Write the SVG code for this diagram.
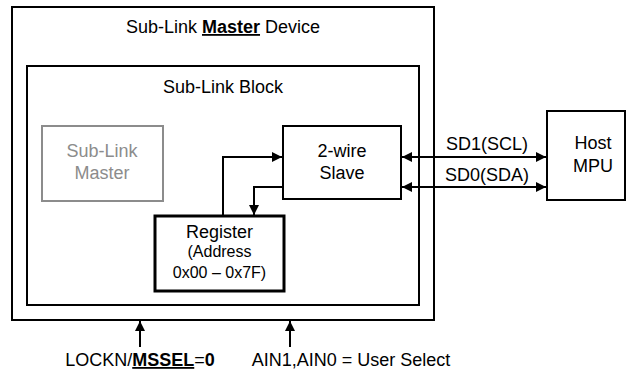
<svg xmlns="http://www.w3.org/2000/svg" width="626" height="374" viewBox="0 0 626 374">
<style>
text{font-family:"Liberation Sans",Arial,sans-serif;font-size:18px;fill:#000;text-anchor:middle}
.box{fill:#fff;stroke:#000;stroke-width:2}
.gray{fill:#fff;stroke:#8c8c8c;stroke-width:2}
.gt{fill:#8c8c8c}
.reg{fill:#fff;stroke:#000;stroke-width:3}
.b{font-weight:bold}
.u{text-decoration:underline}
.wire{fill:none;stroke:#000;stroke-width:2}
.small{font-size:16px}
</style>
<defs>
<marker id="ah" viewBox="0 0 10 10" refX="10" refY="5" markerWidth="5" markerHeight="5" orient="auto-start-reverse" markerUnits="strokeWidth">
<path d="M0,0 L10,5 L0,10 z" fill="#000"/>
</marker>
</defs>
<g id="device">
<rect class="box" x="12" y="7" width="422" height="313"/>
<text x="223" y="33">Sub-Link <tspan class="b u">Master</tspan> Device</text>
</g>
<g id="block">
<rect class="box" x="27" y="66" width="392" height="239"/>
<text x="223" y="93">Sub-Link Block</text>
</g>
<g id="master">
<rect class="gray" x="42" y="126" width="121" height="75"/>
<text class="gt" x="102" y="157">Sub-Link</text>
<text class="gt" x="102" y="179">Master</text>
</g>
<g id="slave">
<rect class="box" x="283" y="126" width="118" height="73"/>
<text x="342" y="157">2-wire</text>
<text x="342" y="179">Slave</text>
</g>
<g id="register">
<rect class="reg" x="155" y="216" width="129" height="75"/>
<text x="219.5" y="238">Register</text>
<text class="small" x="219.5" y="257">(Address</text>
<text class="small" x="219.5" y="278">0x00 – 0x7F)</text>
</g>
<g id="host">
<rect class="box" x="547" y="111" width="78" height="89"/>
<text x="593" y="149">Host</text>
<text x="593" y="172">MPU</text>
</g>
<g id="connectors">
<path class="wire" d="M223,215 V157 H282" marker-end="url(#ah)"/>
<path class="wire" d="M283,187 H254 V215" marker-end="url(#ah)"/>
<path class="wire" d="M402,157 H546" marker-start="url(#ah)" marker-end="url(#ah)"/>
<path class="wire" d="M402,187 H546" marker-start="url(#ah)" marker-end="url(#ah)"/>
<path class="wire" d="M140,347 V321" marker-end="url(#ah)"/>
<path class="wire" d="M290,347 V321" marker-end="url(#ah)"/>
</g>
<g id="labels">
<text x="487" y="150">SD1(SCL)</text>
<text x="487" y="181">SD0(SDA)</text>
<text x="140" y="366">LOCKN/<tspan class="b u">MSSEL</tspan>=<tspan class="b">0</tspan></text>
<text x="351" y="366">AIN1,AIN0 = User Select</text>
</g>
</svg>
